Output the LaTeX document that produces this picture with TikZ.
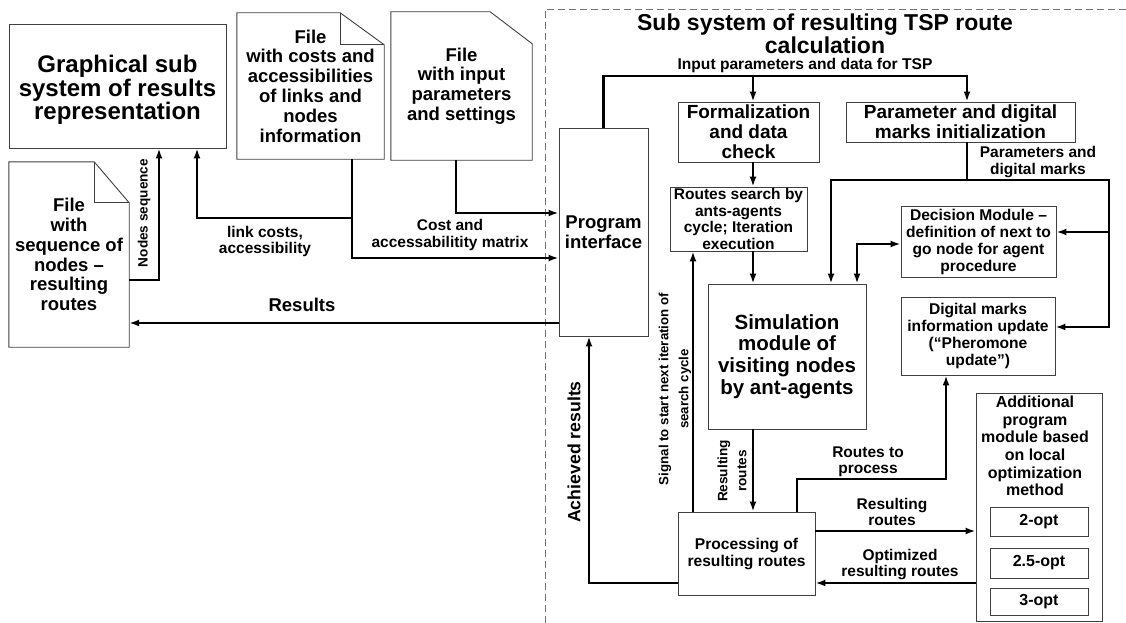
\documentclass[tikz,border=0pt]{standalone}
\usepackage{fontspec}
\setmainfont{Liberation Sans}
\usetikzlibrary{arrows.meta,calc}
\newcommand\myfs[2]{\fontsize{#1}{#2}\selectfont}
\begin{document}
\begin{tikzpicture}[x=1pt,y=-1pt,
  boxline/.style={draw=black!75, line width=0.9pt},
  box/.style={boxline, inner sep=0pt, align=center, font=\bfseries\myfs{15.6}{17}},
  doctext/.style={inner sep=0pt, align=center, font=\bfseries\myfs{18.5}{19.8}},
  lbl/.style={inner sep=0pt, align=center, font=\bfseries\myfs{15.5}{16.5}},
  conn/.style={line width=2.6pt, line join=miter},
  arr/.style={conn, -{Latex[length=10pt,width=7pt]}},
  darr/.style={conn, {Latex[length=10pt,width=7pt]}-{Latex[length=10pt,width=7pt]}},
  sep/.style={draw=black!55, line width=0.9pt, dash pattern=on 7pt off 4pt}]
\fill[white] (0,0) rectangle (1126,623);
\useasboundingbox (0,0) rectangle (1126,623);

% separator of the sub system
\draw[sep] (545,623) -- (545,9) -- (1126,9);

% ---------- left part ----------
\node[box, minimum width=217pt, minimum height=124pt] (graph) at (117.5,86) {};
\node[lbl, font=\bfseries\myfs{24}{23.5}] (grapht) at (117.5,90) {Graphical sub\\system of results\\representation};

\node[doctext, minimum width=147pt, minimum height=146pt] (costs) at (310.5,86) {File\\with costs and\\accessibilities\\of links and\\nodes\\information};
\draw[boxline] (costs.north west) -- ($(costs.north east)+(-44,0)$) -- ($(costs.north east)+(0,32)$) -- (costs.south east) -- (costs.south west) -- cycle;
\draw[boxline] ($(costs.north east)+(-44,0)$) -- ($(costs.north east)+(-44,32)$) -- ($(costs.north east)+(0,32)$);

\node[doctext, minimum width=141pt, minimum height=148pt] (inp) at (461.5,86) {File\\with input\\parameters\\and settings};
\draw[boxline] (inp.north west) -- ($(inp.north east)+(-42,0)$) -- ($(inp.north east)+(0,32)$) -- (inp.south east) -- (inp.south west) -- cycle;

\node[doctext, minimum width=120pt, minimum height=185pt] (seq) at (69,254.5) {File\\with\\sequence of\\nodes --\\resulting\\routes};
\draw[boxline] (seq.north west) -- ($(seq.north east)+(-35,0)$) -- ($(seq.north east)+(0,41)$) -- (seq.south east) -- (seq.south west) -- cycle;
\draw[boxline] ($(seq.north east)+(-35,0)$) -- ($(seq.north east)+(-35,41)$) -- ($(seq.north east)+(0,41)$);

% ---------- sub system ----------
\node[lbl, font=\bfseries\myfs{23}{23}] (title) at (825,34) {Sub system of resulting TSP route\\calculation};

\node[box, minimum width=89pt, minimum height=208pt, font=\bfseries\myfs{18.5}{20}] (prog) at (603.5,232) {Program\\interface};
\node[box, minimum width=141pt, minimum height=60pt, font=\bfseries\myfs{19}{20}] (formal) at (748.5,132) {Formalization\\and data\\check};
\node[box, minimum width=229pt, minimum height=40pt, font=\bfseries\myfs{19}{20}] (param) at (960.5,122) {Parameter and digital\\marks initialization};
\node[box, minimum width=137pt, minimum height=64pt, font=\bfseries\myfs{15.5}{16.7}] (routes) at (738.5,219) {Routes search by\\ants-agents\\cycle; Iteration\\execution};
\node[box, minimum width=158pt, minimum height=145pt, font=\bfseries\myfs{20.5}{21.7}] (sim) at (787,356.5) {Simulation\\module of\\visiting nodes\\by ant-agents};
\node[box, minimum width=155pt, minimum height=71pt] (decision) at (978.5,241.5) {Decision Module --\\definition of next to\\go node for agent\\procedure};
\node[box, minimum width=154pt, minimum height=78pt] (digital) at (978,336) {Digital marks\\information update\\(“Pheromone\\update”)};
\node[box, minimum width=137pt, minimum height=83pt] (proc) at (746.5,553.5) {Processing of\\resulting routes};
\node[box, minimum width=126pt, minimum height=228pt] (add) at (1039,507) {};
\node[lbl, font=\bfseries\myfs{16}{17.6}] (addt) at (1035,446) {Additional\\program\\module based\\on local\\optimization\\method};
\node[box, minimum width=98pt, minimum height=29pt, font=\bfseries\myfs{16}{17}] (opta) at (1039,521.5) {2-opt};
\node[box, minimum width=98pt, minimum height=30pt, font=\bfseries\myfs{16}{17}] (optb) at (1039,563) {2.5-opt};
\node[box, minimum width=98pt, minimum height=27pt, font=\bfseries\myfs{16}{17}] (optc) at (1039,601.5) {3-opt};

% ---------- connectors ----------
\draw[arr] (seq.east |- 0,280) -| (graph.south -| 159,0);
\draw[arr] (costs.south -| 352,0) -- (352,218) coordinate (j1) -- (352,258) -- (prog.west |- 0,258);
\draw[arr] (j1) -| (graph.south -| 197,0);
\draw[arr] (inp.south -| 456,0) |- (prog.west |- 0,213);
\draw[arr] (prog.west |- 0,323) -- (seq.east |- 0,323);

\draw[arr] (prog.north) |- (967,76) -- (param.north -| 967,0);
\draw[arr] (753,76) coordinate (j2) -- (formal.north -| 753,0);
\draw[arr] (formal.south -| 753,0) -- (routes.north -| 753,0);
\draw[arr] (routes.south -| 753,0) -- (sim.north -| 753,0);
\draw[conn] (param.south -| 967,0) -- (967,180) coordinate (j3);
\draw[darr] (sim.north -| 831,0) |- (1109,180) |- (digital.east |- 0,327);
\draw[arr] (1109,232) coordinate (j4) -- (decision.east |- 0,232);
\draw[darr] (sim.north -| 857,0) |- (decision.west |- 0,244);
\draw[arr] (sim.south -| 753,0) -- (proc.north -| 753,0);
\draw[arr] (proc.north -| 797,0) |- (946,479) -- (digital.south -| 946,0);
\draw[arr] (proc.east |- 0,531) -- (add.west |- 0,531);
\draw[arr] (add.west |- 0,583) -- (proc.east |- 0,583);
\draw[arr] (proc.north -| 693,0) -- (routes.south -| 693,0);
\draw[arr] (proc.west |- 0,583) -| (prog.south -| 589,0);

% ---------- labels ----------
\node[lbl, rotate=90, font=\bfseries\myfs{13.6}{15}] (l1) at (144,213) {Nodes sequence};
\node[lbl] (l2) at (265,241.5) {link costs,\\accessibility};
\node[lbl] (l3) at (450,235) {Cost and\\accessabilitity matrix};
\node[lbl, font=\bfseries\myfs{18.5}{20}] (l4) at (302,305) {Results};
\node[lbl, font=\bfseries\myfs{15.6}{17}] (l5) at (805,65) {Input parameters and data for TSP};
\node[lbl] (l6) at (1038,162) {Parameters and\\digital marks};
\node[lbl, rotate=90, font=\bfseries\myfs{13.3}{20}] (l7) at (675,389) {Signal to start next iteration of\\search cycle};
\node[lbl, rotate=90, font=\bfseries\myfs{17.7}{19}] (l8) at (574,452) {Achieved results};
\node[lbl, rotate=90, font=\bfseries\myfs{13.6}{19}] (l9) at (732,471) {Resulting\\routes};
\node[lbl] (l10) at (868,462) {Routes to\\process};
\node[lbl] (l11) at (892,512) {Resulting\\routes};
\node[lbl] (l12) at (900,564.5) {Optimized\\resulting routes};
\end{tikzpicture}
\end{document}
